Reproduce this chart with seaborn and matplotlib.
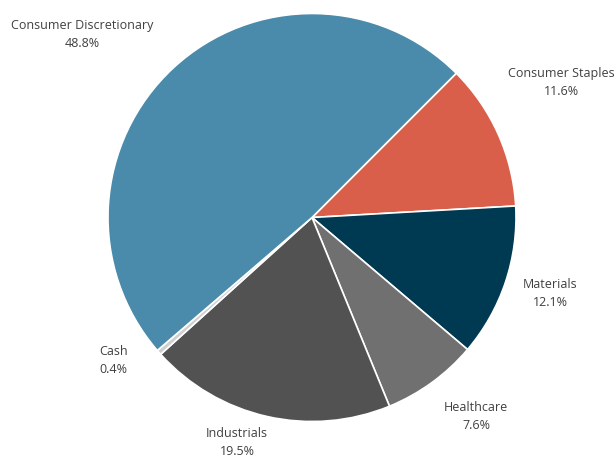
import matplotlib
matplotlib.use("Agg")
import matplotlib.pyplot as plt
import seaborn as sns

sns.set_theme(style="white")
plt.rcParams['font.family'] = ['Open Sans', 'DejaVu Sans']

# Data (clockwise from the upper-right boundary)
categories = ["Consumer Staples", "Materials", "Healthcare", "Industrials", "Cash", "Consumer Discretionary"]
values = [11.6, 12.1, 7.6, 19.5, 0.4, 48.8]
pct_labels = ["11.6%", "12.1%", "7.6%", "19.5%", "0.4%", "48.8%"]

# Styling / layout
colors = ["#d95f4a", "#003a52", "#707070", "#525252", "#d0d0d0", "#4a8aab"]
label_pos = [(1.221, 0.662), (1.167, -0.372), (0.804, -0.975),
             (-0.368, -1.105), (-0.975, -0.701), (-1.127, 0.897)]

W, H = 616, 459
fig = plt.figure(figsize=(W / 100, H / 100), dpi=100)
ax = fig.add_axes([0, 0, 1, 1])
cx, cy, r = 312, 217.5, 204
ax.pie(values, colors=colors, startangle=45, counterclock=False, radius=1,
       wedgeprops=dict(edgecolor="white", linewidth=1.2))
ax.set_xlim(-cx / r, (W - cx) / r)
ax.set_ylim((cy - H) / r, cy / r)
ax.set_aspect("equal")
ax.axis("off")

for cat, pl, (x, y) in zip(categories, pct_labels, label_pos):
    ax.text(x, y, f"{cat}\n{pl}", ha="center", va="center", fontsize=9,
            color="#404040", linespacing=1.5)

fig.savefig("out.png", dpi=100)
